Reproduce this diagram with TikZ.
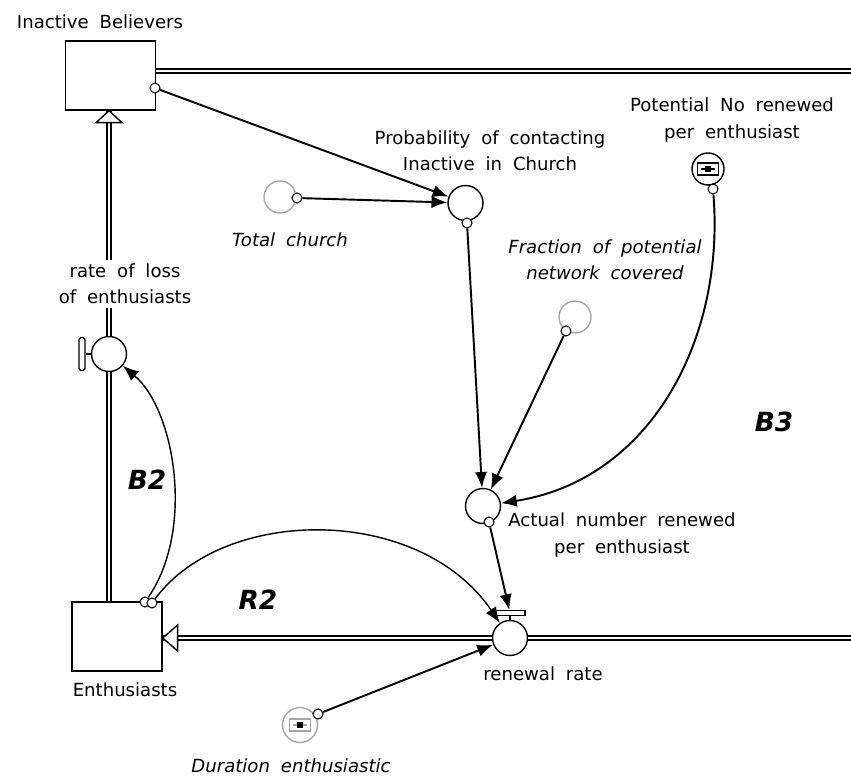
\documentclass[tikz,border=0pt]{standalone}
\usepackage{fontspec}
\setmainfont{DejaVu Sans}
\usetikzlibrary{arrows.meta, positioning, calc}
\newcommand{\labelfont}{\fontsize{10.3}{15}\selectfont\spaceskip 0.6em plus 0.1em\relax}

\begin{document}
\begin{tikzpicture}[x=0.02cm, y=-0.02cm,
        font=\labelfont,
        stock/.style={draw, line width=0.8pt, minimum width=1.8cm, minimum height=1.38cm, inner sep=0pt},
        valve/.style={draw, circle, line width=0.8pt, fill=white, minimum size=0.7cm, inner sep=0pt},
        aux/.style={draw, circle, line width=0.8pt, minimum size=0.7cm, inner sep=0pt},
        const/.style={draw=gray!70, circle, line width=0.8pt, minimum size=0.64cm, inner sep=0pt},
        lookup/.style={draw, circle, line width=0.8pt, minimum size=0.64cm, inner sep=0pt,
            path picture={
                \draw[line width=1pt] ($(path picture bounding box.center)+(-0.21cm,-0.12cm)$) rectangle ++(0.42cm,0.24cm);
                \draw[line width=1.4pt] ($(path picture bounding box.center)+(-0.14cm,0)$) -- ++(0.28cm,0);
                \fill ($(path picture bounding box.center)+(-0.065cm,-0.065cm)$) rectangle ++(0.13cm,0.13cm);
            }},
        tap/.style={draw, circle, line width=0.6pt, fill=white, minimum size=0.2cm, inner sep=0pt},
        pipe/.style={double, double distance=1.5pt, line width=0.75pt},
        pipehead/.style={line width=0.8pt, fill=white},
        link/.style={-{Latex[length=9pt,width=7pt]}, line width=1.1pt},
        looplabel/.style={font=\fontsize{15}{18}\selectfont\bfseries\itshape}
    ]
        \useasboundingbox (0,0) rectangle (851,780);

        % Define the stocks
        \node[stock] (ib) at (110.5,75.5) {};
        \node (ibl) at (100,22) {Inactive Believers};
        \node[stock] (en) at (117,636.5) {};
        \node (enl) at (125,690) {Enthusiasts};

        % Define the clouds
        \coordinate (cloudT) at (851,71);
        \coordinate (cloudR) at (851,638);

        % Define the valves
        \node[valve] (rl) at (109,354) {};
        \node[draw, line width=0.8pt, rounded corners=1pt, minimum width=0.12cm, minimum height=0.66cm, inner sep=0pt] (rlh) at (82,354) {};
        \node[valve] (rr) at (510,638) {};
        \node[draw, line width=0.8pt, minimum width=0.6cm, minimum height=0.09cm, inner sep=0pt] (rrh) at (510,613) {};

        % Draw pipes
        \draw[pipe] (cloudT -| ib.east) -- (cloudT);
        \draw[pipe] (rr.east) -- (cloudR);
        \draw[pipe] (rr.west) -- (rr -| en.east);
        \draw[pipehead] (rr -| en.east) -- ++(15,-13) -- ++(0,26) -- cycle;
        \draw[pipe] (rl |- en.north) -- (rl.south);
        \draw[pipe] (rl.north) -- (rl |- ib.south);
        \draw[pipehead] (rl |- ib.south) -- ++(-13,12) -- ++(26,0) -- cycle;
        \draw[line width=0.8pt] (rlh) -- (rl);
        \draw[line width=0.8pt] (rrh) -- (rr);

        % Valve labels
        \node[align=center, fill=white, inner sep=2pt] (rll) at (125,284) {rate of loss\\of enthusiasts};
        \node (rrl) at (543,674) {renewal rate};

        % Define the auxiliaries
        \node[aux] (pc) at (465.5,203) {};
        \node[align=center] (pcl) at (490,151) {Probability of contacting\\Inactive in Church};
        \node[aux] (an) at (483,506) {};
        \node[align=center] (anl) at (622,535) {Actual number renewed\\per enthusiast};
        \node[const] (tc) at (280,197) {};
        \node[font=\labelfont\itshape] (tcl) at (290,240) {Total church};
        \node[const] (fn) at (575,317) {};
        \node[align=center, font=\labelfont\itshape] (fnl) at (605,260) {Fraction of potential\\network covered};
        \node[lookup] (pn) at (708,169) {};
        \node[align=center] (pnl) at (732,120) {Potential No renewed\\per enthusiast};
        \node[lookup, draw=gray!70, minimum size=0.7cm] (du) at (300,725) {};
        \node[font=\labelfont\itshape] (dul) at (291,766) {Duration enthusiastic};

        % Define the taps
        \node[tap] (t1) at (155,88) {};
        \node[tap] (t2) at (297,198) {};
        \node[tap] (t3) at (467,223) {};
        \node[tap] (t4) at (566,331) {};
        \node[tap] (t5) at (713,189) {};
        \node[tap] (t6) at (489,522) {};
        \node[tap] (t7) at (318,714) {};
        \node[tap] (t8) at (145,602) {};
        \node[tap] (t9) at (152,603) {};

        % Draw arrows
        \draw[link] (t1) -- (pc);
        \draw[link] (t2) -- (pc);
        \draw[link] (t3) -- (an);
        \draw[link] (t4) -- (an);
        \draw[link] (t5) .. controls (725,340) and (650,480) .. (an);
        \draw[link] (t6) -- (rrh);
        \draw[link] (t7) -- (rr);
        \draw[link, line width=0.8pt] (t8) .. controls (195,530) and (175,410) .. (rl);
        \draw[link, line width=0.8pt] (t9) .. controls (225,505) and (420,505) .. (rr);

        % Loop labels
        \node[looplabel] (b2) at (147,480) {B2};
        \node[looplabel] (r2) at (258,600) {R2};
        \node[looplabel] (b3) at (774,422) {B3};
    \end{tikzpicture}
\end{document}
